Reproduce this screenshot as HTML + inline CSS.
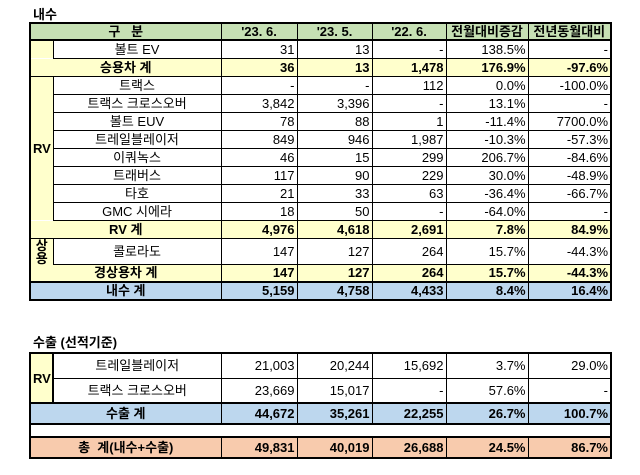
<!DOCTYPE html>
<html><head><meta charset="utf-8"><style>
body{margin:0;width:640px;height:475px;background:#fff;position:relative;overflow:hidden;font-family:"Liberation Sans","Noto Sans CJK KR",sans-serif;font-size:13px;color:#000}
.t{position:absolute;font-size:13px;font-weight:bold}
table{position:absolute;border-collapse:collapse;table-layout:fixed;border:2px solid #000}
td{padding:0 2px;border:1px solid #000;white-space:nowrap;overflow:hidden;text-align:right;line-height:1}
td.c{text-align:center}
.b td{font-weight:bold}
.g{background:#c6e0b4}.y{background:#ffffcc}.bl{background:#bdd7ee}.p{background:#f8cbad}
.hd td{border-bottom:2px solid #000;font-weight:bold;text-align:center}
.nb{border-top:2px solid #000}
</style></head><body>
<div class="t" style="left:33px;top:4px">내수</div>
<table style="left:29px;top:22px;width:583px">
<colgroup><col style="width:23px"><col style="width:168px"><col style="width:76px"><col style="width:75px"><col style="width:74px"><col style="width:82px"><col style="width:83px"></colgroup>
<tr class="hd g" style="height:17px"><td colspan="2">구&nbsp;&nbsp;&nbsp;분</td><td>'23. 6.</td><td>'23. 5.</td><td>'22. 6.</td><td>전월대비증감</td><td>전년동월대비</td></tr>
<tr style="height:18px"><td class="y" style="border-bottom:none"></td><td class="c">볼트 EV</td><td>31</td><td>13</td><td>-</td><td>138.5%</td><td>-</td></tr>
<tr class="b y" style="height:18px"><td colspan="2" class="c" style="border-top:none">승용차 계</td><td>36</td><td>13</td><td>1,478</td><td>176.9%</td><td>-97.6%</td></tr>
<tr style="height:18px"><td class="y c" rowspan="8" style="font-weight:bold;border-bottom:none">RV</td><td class="c">트랙스</td><td>-</td><td>-</td><td>112</td><td>0.0%</td><td>-100.0%</td></tr>
<tr style="height:18px"><td class="c">트랙스 크로스오버</td><td>3,842</td><td>3,396</td><td>-</td><td>13.1%</td><td>-</td></tr>
<tr style="height:18px"><td class="c">볼트 EUV</td><td>78</td><td>88</td><td>1</td><td>-11.4%</td><td>7700.0%</td></tr>
<tr style="height:18px"><td class="c">트레일블레이저</td><td>849</td><td>946</td><td>1,987</td><td>-10.3%</td><td>-57.3%</td></tr>
<tr style="height:18px"><td class="c">이쿼녹스</td><td>46</td><td>15</td><td>299</td><td>206.7%</td><td>-84.6%</td></tr>
<tr style="height:18px"><td class="c">트래버스</td><td>117</td><td>90</td><td>229</td><td>30.0%</td><td>-48.9%</td></tr>
<tr style="height:18px"><td class="c">타호</td><td>21</td><td>33</td><td>63</td><td>-36.4%</td><td>-66.7%</td></tr>
<tr style="height:18px"><td class="c">GMC 시에라</td><td>18</td><td>50</td><td>-</td><td>-64.0%</td><td>-</td></tr>
<tr class="b y" style="height:18px"><td colspan="2" class="c" style="border-top:none">RV 계</td><td>4,976</td><td>4,618</td><td>2,691</td><td>7.8%</td><td>84.9%</td></tr>
<tr style="height:26px"><td class="y c" style="font-weight:bold;border-bottom:none;line-height:13px;vertical-align:top;padding:0">상<br>용</td><td class="c">콜로라도</td><td>147</td><td>127</td><td>264</td><td>15.7%</td><td>-44.3%</td></tr>
<tr class="b y" style="height:17px"><td colspan="2" class="c" style="border-top:none">경상용차 계</td><td>147</td><td>127</td><td>264</td><td>15.7%</td><td>-44.3%</td></tr>
<tr class="b bl" style="height:18px"><td colspan="2" class="c nb">내수 계</td><td class="nb">5,159</td><td class="nb">4,758</td><td class="nb">4,433</td><td class="nb">8.4%</td><td class="nb">16.4%</td></tr>
</table>
<div class="t" style="left:33px;top:332px">수출 (선적기준)</div>
<table style="left:29px;top:352px;width:583px">
<colgroup><col style="width:23px"><col style="width:168px"><col style="width:76px"><col style="width:75px"><col style="width:74px"><col style="width:82px"><col style="width:83px"></colgroup>
<tr style="height:25px"><td class="y c" rowspan="2" style="font-weight:bold;border-right:2px solid #000">RV</td><td class="c">트레일블레이저</td><td>21,003</td><td>20,244</td><td>15,692</td><td>3.7%</td><td>29.0%</td></tr>
<tr style="height:25px"><td class="c">트랙스 크로스오버</td><td>23,669</td><td>15,017</td><td>-</td><td>57.6%</td><td>-</td></tr>
<tr class="b bl" style="height:21px"><td colspan="2" class="c nb">수출 계</td><td class="nb">44,672</td><td class="nb">35,261</td><td class="nb">22,255</td><td class="nb">26.7%</td><td class="nb">100.7%</td></tr>
<tr style="height:13px"><td colspan="7" class="nb" style="border-bottom:2px solid #000"></td></tr>
<tr class="b p" style="height:21px"><td colspan="2" class="c">총&nbsp;&nbsp;계(내수+수출)</td><td>49,831</td><td>40,019</td><td>26,688</td><td>24.5%</td><td>86.7%</td></tr>
</table>
</body></html>
